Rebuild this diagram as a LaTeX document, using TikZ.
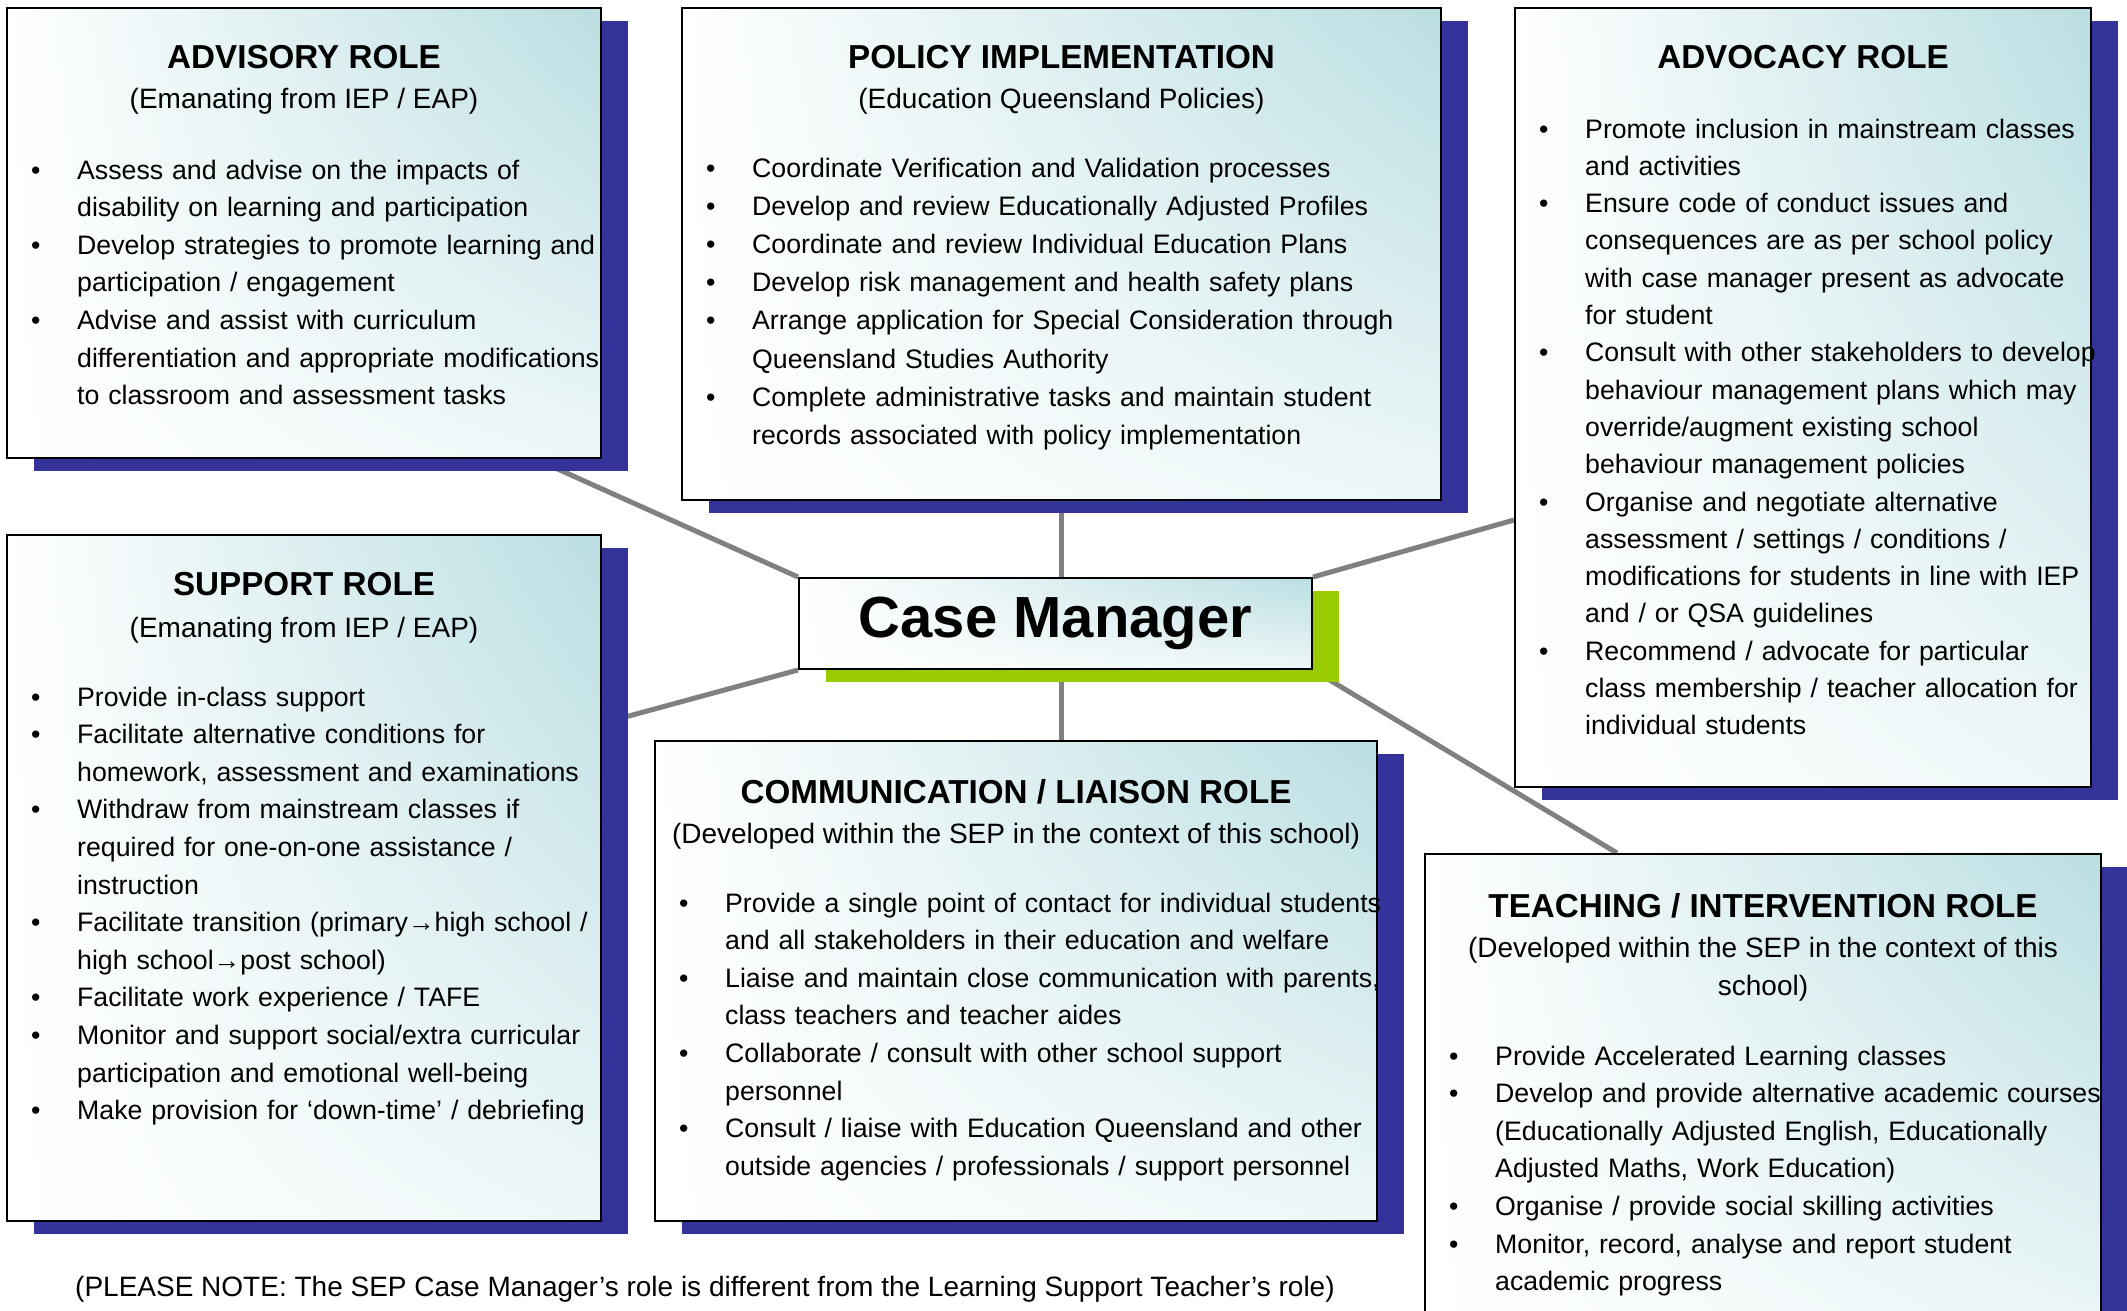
\documentclass[tikz,border=0pt]{standalone}
\usepackage{fontspec}
\setmainfont{Liberation Sans}
\usetikzlibrary{positioning,calc,shadows,shadings,backgrounds}

\definecolor{roleblue}{RGB}{51,51,153}
\definecolor{rolegreen}{RGB}{153,204,0}
\definecolor{roleteal}{RGB}{186,222,226}
\definecolor{linkgray}{RGB}{128,128,128}

\newcommand{\titlefont}{\fontsize{33.2}{40}\selectfont\bfseries}
\newcommand{\subfont}{\fontsize{28}{38}\selectfont}
\newcommand{\bodyfont}{\fontsize{26.7}{37.6}\selectfont}
\newcommand{\roleitem}[1]{\noindent\hangindent=71pt\hangafter=1%
   \makebox[71pt][l]{\hspace{25pt}\textbullet}#1\par}

\begin{document}
\begin{tikzpicture}[x=1pt, y=-1pt,
         panel/.style = {draw=black, line width=2pt, anchor=north west,
         inner sep=0pt, shade, upper left=white, upper right=roleteal,
         lower left=white, lower right=roleteal!25},
         rolebox/.style = {panel, general shadow={fill=roleblue,
         shadow xshift=27pt, shadow yshift=-13pt}},
         casebox/.style = {panel, general shadow={fill=rolegreen,
         shadow xshift=27pt, shadow yshift=-13pt}},
         roletitle/.style = {anchor=base, inner sep=0pt, font=\titlefont},
         rolesub/.style = {anchor=base, inner sep=0pt, font=\subfont},
         rolelist/.style = {anchor=base west, inner sep=0pt, font=\bodyfont,
         align=left, text width=#1},
         link/.style = {draw=linkgray, line width=5pt}
]

   \useasboundingbox (0,0) rectangle (2127,1310);

   % advisory role
   \node[rolebox, minimum width=594pt, minimum height=450pt] (adv) at (6,7) {};
   \node[roletitle] (advtitle) at ($(adv.north)+(0,61)$) {ADVISORY ROLE};
   \node[rolesub] (advsub) at ($(adv.north)+(0,101)$) {(Emanating from IEP / EAP)};
   \node[rolelist=650pt] (advlist) at ($(adv.north west)+(0,172)$) {%
      \roleitem{Assess and advise on the impacts of\newline disability on learning and participation}
      \roleitem{Develop strategies to promote learning and\newline participation / engagement}
      \roleitem{Advise and assist with curriculum\newline differentiation and appropriate modifications\newline to classroom and assessment tasks}};

   % policy implementation
   \node[rolebox, minimum width=759pt, minimum height=492pt] (pol) at (681,7) {};
   \node[roletitle] (poltitle) at ($(pol.north)+(0,61)$) {POLICY IMPLEMENTATION};
   \node[rolesub] (polsub) at ($(pol.north)+(0,101)$) {(Education Queensland Policies)};
   \node[rolelist=820pt, font=\fontsize{26.7}{38.2}\selectfont] (pollist)
      at ($(pol.north west)+(0,170)$) {%
      \roleitem{Coordinate Verification and Validation processes}
      \roleitem{Develop and review Educationally Adjusted Profiles}
      \roleitem{Coordinate and review Individual Education Plans}
      \roleitem{Develop risk management and health safety plans}
      \roleitem{Arrange application for Special Consideration through\newline Queensland Studies Authority}
      \roleitem{Complete administrative tasks and maintain student\newline records associated with policy implementation}};

   % advocacy role
   \node[rolebox, minimum width=576pt, minimum height=779pt] (adc) at (1514,7) {};
   \node[roletitle] (adctitle) at ($(adc.north)+(0,61)$) {ADVOCACY ROLE};
   \node[rolelist=640pt, font=\fontsize{26.7}{37.3}\selectfont] (adclist)
      at ($(adc.north west)+(0,131)$) {%
      \roleitem{Promote inclusion in mainstream classes\newline and activities}
      \roleitem{Ensure code of conduct issues and\newline consequences are as per school policy\newline with case manager present as advocate\newline for student}
      \roleitem{Consult with other stakeholders to develop\newline behaviour management plans which may\newline override/augment existing school\newline behaviour management policies}
      \roleitem{Organise and negotiate alternative\newline assessment / settings / conditions /\newline modifications for students in line with IEP\newline and / or QSA guidelines}
      \roleitem{Recommend / advocate for particular\newline class membership / teacher allocation for\newline individual students}};

   % support role
   \node[rolebox, minimum width=594pt, minimum height=686pt] (sup) at (6,534) {};
   \node[roletitle] (suptitle) at ($(sup.north)+(0,61)$) {SUPPORT ROLE};
   \node[rolesub] (supsub) at ($(sup.north)+(0,103)$) {(Emanating from IEP / EAP)};
   \node[rolelist=650pt] (suplist) at ($(sup.north west)+(0,172)$) {%
      \roleitem{Provide in-class support}
      \roleitem{Facilitate alternative conditions for\newline homework, assessment and examinations}
      \roleitem{Withdraw from mainstream classes if\newline required for one-on-one assistance /\newline instruction}
      \roleitem{Facilitate transition (primary→high school /\newline high school→post school)}
      \roleitem{Facilitate work experience / TAFE}
      \roleitem{Monitor and support social/extra curricular\newline participation and emotional well-being}
      \roleitem{Make provision for ‘down-time’ / debriefing}};

   % communication / liaison role
   \node[rolebox, minimum width=722pt, minimum height=480pt] (com) at (654,740) {};
   \node[roletitle] (comtitle) at ($(com.north)+(0,63)$) {COMMUNICATION / LIAISON ROLE};
   \node[rolesub] (comsub) at ($(com.north)+(0,103)$) {(Developed within the SEP in the context of this school)};
   \node[rolelist=780pt] (comlist) at ($(com.north west)+(0,172)$) {%
      \roleitem{Provide a single point of contact for individual students\newline and all stakeholders in their education and welfare}
      \roleitem{Liaise and maintain close communication with parents,\newline class teachers and teacher aides}
      \roleitem{Collaborate / consult with other school support\newline personnel}
      \roleitem{Consult / liaise with Education Queensland and other\newline outside agencies / professionals / support personnel}};

   % teaching / intervention role
   \node[rolebox, minimum width=676pt, minimum height=500pt] (tea) at (1424,853) {};
   \node[roletitle] (teatitle) at ($(tea.north)+(0,64)$) {TEACHING / INTERVENTION ROLE};
   \node[rolesub] (teasub) at ($(tea.north)+(0,104)$) {(Developed within the SEP in the context of this};
   \node[rolesub] (teasubb) at ($(teasub.base)+(0,38)$) {school)};
   \node[rolelist=740pt] (tealist) at ($(tea.north west)+(0,212)$) {%
      \roleitem{Provide Accelerated Learning classes}
      \roleitem{Develop and provide alternative academic courses\newline (Educationally Adjusted English, Educationally\newline Adjusted Maths, Work Education)}
      \roleitem{Organise / provide social skilling activities}
      \roleitem{Monitor, record, analyse and report student\newline academic progress}};

   % case manager
   \node[casebox, minimum width=513pt, minimum height=91pt,
      font=\fontsize{58}{60}\selectfont\bfseries] (cm) at (798,577) {Case Manager};

   \node[rolesub] (note) at (705,1296) {(PLEASE NOTE: The SEP Case Manager’s role is different from the Learning Support Teacher’s role)};

   % links to the case manager
   \begin{scope}[on background layer]
      \coordinate (advend) at ($(adv.south east)+(-60,3)$);
      \coordinate (adcend) at ($(adc.north west)+(0,513)$);
      \coordinate (supend) at ($(sup.north east)+(-10,192)$);
      \coordinate (teaend) at ($(tea.north west)+(193,0)$);
      \draw[link] (advend) -- (cm.north west);
      \draw[link] (pol.south) -- (pol.south |- cm.north);
      \draw[link] (cm.north east) -- (adcend);
      \draw[link] (supend) -- (cm.south west);
      \draw[link] (pol.south |- cm.south) -- (pol.south |- com.north);
      \draw[link] (cm.south east) -- (teaend);
   \end{scope}

\end{tikzpicture}
\end{document}
